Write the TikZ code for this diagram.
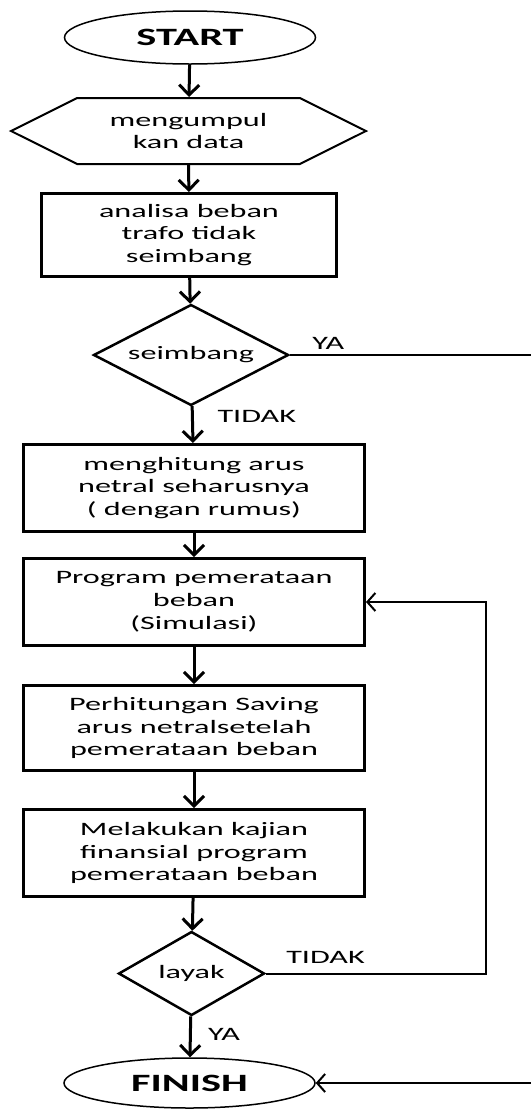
\documentclass[tikz,border=0pt]{standalone}
\usepackage{fontspec}
\setmainfont{Carlito}[FakeStretch=1.7]
\usetikzlibrary{positioning,shapes.geometric,shapes.symbols,arrows.meta}

\begin{document}
\begin{tikzpicture}[x=1bp,y=1bp,
  every node/.style={font=\fontsize{19}{23}\selectfont,align=center},
  term/.style={ellipse,draw,line width=1.5bp,minimum width=251bp,minimum height=53bp,inner sep=0pt,font=\fontsize{25}{28}\selectfont\bfseries},
  io/.style={signal,signal to=west and east,signal pointer angle=53,draw,line width=2bp,minimum width=355bp,minimum height=66bp},
  proc/.style={rectangle,draw,line width=3bp,minimum width=341bp,minimum height=87bp,inner sep=0pt},
  decide/.style={diamond,draw,line width=2.5bp,inner sep=0pt,shape aspect=1.9},
  flow/.style={line width=3bp,-{Straight Barb[length=10bp,width=20bp]}},
  back/.style={line width=2bp,-{Straight Barb[length=8bp,width=18bp]}}]
  \useasboundingbox (0,0) rectangle (531,-1109);
  \node[term] (start) at (190,-37.5) {START};
  \node[io] (data) at (188.5,-131) {mengumpul\\kan data};
  \node[proc,minimum width=295bp,minimum height=83bp] (analisa) at (189,-235) {analisa beban\\trafo tidak\\seimbang};
  \node[decide,minimum width=195bp,minimum height=101bp] (seimbang) at (191,-355) {seimbang};
  \node[proc] (hitung) at (194,-488) {menghitung arus\\netral seharusnya\\( dengan rumus)};
  \node[proc] (simulasi) at (194,-602) {Program pemerataan\\beban\\(Simulasi)};
  \node[proc,minimum height=85bp] (saving) at (194,-728) {Perhitungan Saving\\arus netralsetelah\\pemerataan beban};
  \node[proc] (kajian) at (194,-853) {Melakukan kajian\\finansial program\\pemerataan beban};
  \node[decide,minimum width=146bp,minimum height=84bp] (layak) at (191.5,-973.5) {layak};
  \node[term,minimum height=50bp] (finish) at (189.5,-1083) {FINISH};
  \coordinate (kanan) at (536,0);
  \coordinate (balik) at (486,0);
  % main flow
  \draw[flow] (start) -- (data);
  \draw[flow] (data) -- (analisa);
  \draw[flow] (analisa) -- (seimbang);
  \draw[flow] (seimbang) -- (hitung);
  \draw[flow] (hitung) -- (simulasi);
  \draw[flow] (simulasi) -- (saving);
  \draw[flow] (saving) -- (kajian);
  \draw[flow] (kajian) -- (layak);
  \draw[flow] (layak) -- (finish);
  % branches
  \draw[back] (seimbang.east) -- (seimbang.east -| kanan) |- (finish.east);
  \draw[back] (layak.east) -| (balik |- simulasi.east) -- (simulasi.east);
  \node[above right=2bp and 19bp of seimbang.east] (ya1) {YA};
  \node[below right=0bp and 23bp of seimbang.south] (tidak1) {TIDAK};
  \node[above right=6bp and 17bp of layak.east] (tidak2) {TIDAK};
  \node[below right=8bp and 13bp of layak.south] (ya2) {YA};
\end{tikzpicture}
\end{document}
